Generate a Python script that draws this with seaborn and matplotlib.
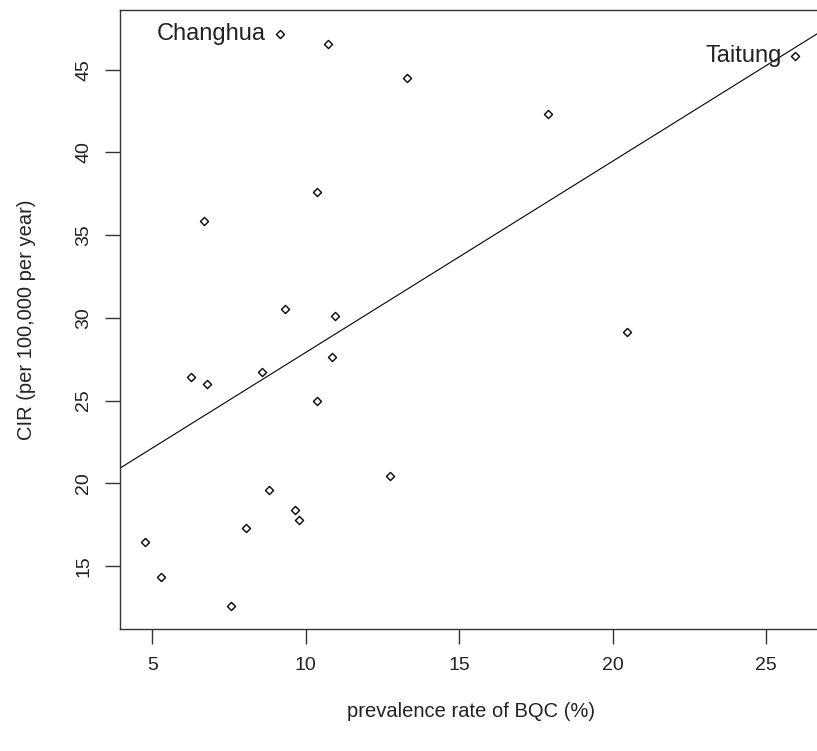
import matplotlib
matplotlib.use('Agg')
import matplotlib.pyplot as plt
import pandas as pd
import seaborn as sns

# prevalence rate of BQC (%) and CIR per county
prevalence = [9.15, 10.71, 13.30, 17.88, 25.95, 10.37, 6.68, 9.34, 10.95, 10.84,
              6.26, 6.78, 8.58, 10.37, 12.74, 8.79, 9.66, 9.77, 8.06, 5.29,
              7.55, 4.78, 20.45]
cir = [47.17, 46.57, 44.50, 42.34, 45.85, 37.59, 35.86, 30.53, 30.13, 27.65,
       26.40, 26.02, 26.70, 25.00, 20.47, 19.62, 18.37, 17.78, 17.32, 14.34,
       12.61, 16.45, 29.12]
county = ['Changhua', '', '', '', 'Taitung', '', '', '', '', '',
          '', '', '', '', '', '', '', '', '', '',
          '', '', '']

x_ticks = [5, 10, 15, 20, 25]
y_ticks = [15, 20, 25, 30, 35, 40, 45]


def main():
    sns.set_style('ticks')
    plt.rcParams['font.family'] = ['Liberation Sans', 'DejaVu Sans']

    df = pd.DataFrame({'bqc': prevalence, 'cir': cir, 'county': county})

    fig = plt.figure(figsize=(8.17, 7.51), dpi=100)
    ax = fig.add_axes([120 / 817, 122 / 751, 703 / 817, 619 / 751])
    ax.set_xlim(3.95, 26.85)
    ax.set_ylim(11.2, 48.6)

    sns.scatterplot(data=df, x='bqc', y='cir', marker='D', s=17,
                    color='white', edgecolor='black', linewidth=1.0,
                    ax=ax, zorder=3)
    sns.regplot(data=df, x='bqc', y='cir', scatter=False, ci=None,
                truncate=False, ax=ax,
                line_kws=dict(color='black', lw=0.8))

    for _, r in df[df.county != ''].iterrows():
        ax.annotate(r.county, (r.bqc, r.cir), xytext=(-10, 0),
                    textcoords='offset points', ha='right', va='center',
                    fontsize=17, color='#222222')

    ax.set_xticks(x_ticks)
    ax.set_yticks(y_ticks)
    ax.tick_params(length=11, width=1, color='#333333', labelsize=14,
                   labelcolor='#222222', pad=9)
    plt.setp(ax.get_yticklabels(), rotation=90, va='center')

    for s in ax.spines.values():
        s.set_color('#333333')
        s.set_linewidth(1)

    ax.set_xlabel('prevalence rate of BQC (%)', fontsize=14.5,
                  color='#222222', labelpad=20)
    ax.set_ylabel('CIR (per 100,000 per year)', fontsize=14.5,
                  color='#222222', labelpad=28)

    fig.savefig('out.png', dpi=100)


if __name__ == '__main__':
    main()
